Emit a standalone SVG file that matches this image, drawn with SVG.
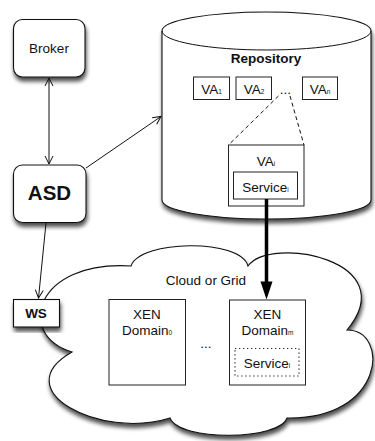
<svg xmlns="http://www.w3.org/2000/svg" width="375" height="441" viewBox="0 0 375 441">
<style>
text{font-family:"Liberation Sans",Arial,Helvetica,sans-serif;font-size:13.5px;fill:#111;text-anchor:middle}
.b{font-weight:bold}
.sub{font-size:6.5px}
.sh{fill:#fff;stroke:#111;stroke-width:1.1}
.bx{fill:#fff;stroke:#222;stroke-width:1}
.ln{fill:none;stroke:#111;stroke-width:1}
</style>
<defs>
<filter id="ds" x="-10%" y="-10%" width="125%" height="130%">
<feGaussianBlur in="SourceAlpha" stdDeviation="2.2"/>
<feOffset dx="1" dy="4" result="o"/>
<feComponentTransfer><feFuncA type="linear" slope="0.7"/></feComponentTransfer>
<feMerge><feMergeNode/><feMergeNode in="SourceGraphic"/></feMerge>
</filter>
<marker id="oa" viewBox="-9 -5 10 10" refX="0" refY="0" markerWidth="10" markerHeight="10" markerUnits="userSpaceOnUse" orient="auto-start-reverse">
<path d="M-8,-4 L0,0 L-8,4" fill="none" stroke="#111" stroke-width="1"/>
</marker>
</defs>

<g id="cloud">
<path class="sh" filter="url(#ds)" d="M131,266 C140,240 240,238 248,266 C270,235 405,260 347,330 C390,330 385,420 287,418 C280,440 180,442 170,418 C100,440 5,390 72,352 C15,335 35,260 131,266 Z"/>
<text x="206" y="285">Cloud or Grid</text>
</g>

<g id="repository">
<path class="sh" filter="url(#ds)" d="M162,31 L162,200 A104.5,19 0 0 0 371,200 L371,31 A104.5,19 0 0 0 162,31 Z"/>
<path class="ln" d="M162,31 A104.5,19 0 0 0 371,31"/>
<text class="b" x="266" y="63">Repository</text>
</g>

<g id="va1"><rect class="bx" x="193.5" y="77" width="36" height="22.5"/><text x="211.5" y="94">VA<tspan class="sub">1</tspan></text></g>
<g id="va2"><rect class="bx" x="236" y="77" width="35.5" height="22.5"/><text x="254" y="94">VA<tspan class="sub">2</tspan></text></g>
<g id="vadots"><text x="285.5" y="94">...</text></g>
<g id="van"><rect class="bx" x="302.5" y="77" width="35" height="22.5"/><text x="320" y="94">VA<tspan class="sub">n</tspan></text></g>

<g id="vai">
<rect class="bx" x="228.5" y="145" width="75.5" height="61"/>
<text x="266" y="165.5">VA<tspan class="sub">i</tspan></text>
</g>
<g id="service-vai">
<rect class="bx" x="233.5" y="172" width="64" height="27"/>
<text x="265.5" y="192">Service<tspan class="sub">i</tspan></text>
</g>

<g id="xen0">
<rect class="bx" x="109" y="299.5" width="76.5" height="85.5"/>
<text x="147" y="318.5">XEN</text>
<text x="147" y="334.5">Domain<tspan class="sub">0</tspan></text>
</g>
<g id="xendots"><text x="206" y="348">...</text></g>
<g id="xenm">
<rect class="bx" x="229.5" y="300" width="76" height="85"/>
<text x="267.5" y="318.5">XEN</text>
<text x="267.5" y="334.5">Domain<tspan class="sub">m</tspan></text>
</g>
<g id="service-xenm">
<rect x="235" y="348.5" width="64" height="27.5" fill="none" stroke="#222" stroke-width="1.2" stroke-dasharray="1.3,2.7"/>
<text x="267" y="368">Service<tspan class="sub">i</tspan></text>
</g>

<g id="broker"><rect class="sh" filter="url(#ds)" x="13.5" y="19.5" width="71.5" height="57.5" rx="9"/><text x="49" y="53">Broker</text></g>
<g id="asd"><rect class="sh" filter="url(#ds)" x="13.5" y="165" width="72.5" height="57.5" rx="9"/><text class="b" x="49.5" y="200" style="font-size:20.5px">ASD</text></g>
<g id="ws"><rect class="sh" filter="url(#ds)" x="13.5" y="299.5" width="46" height="27.5"/><text class="b" x="36" y="317.5">WS</text></g>

<g id="connectors">
<line class="ln" x1="49" y1="78" x2="49" y2="164" marker-start="url(#oa)" marker-end="url(#oa)"/>
<line class="ln" x1="86" y1="168" x2="161" y2="116.5" marker-end="url(#oa)"/>
<line class="ln" x1="46" y1="223" x2="38.5" y2="298" marker-end="url(#oa)"/>
<line class="ln" x1="278.5" y1="96" x2="228.5" y2="145" stroke-dasharray="4,3"/>
<line class="ln" x1="290" y1="96" x2="304" y2="145" stroke-dasharray="4,3"/>
<line x1="266.5" y1="199" x2="266.5" y2="284" stroke="#000" stroke-width="3.5"/>
<polygon points="260.5,281.5 272.5,281.5 266.5,299.5" fill="#000"/>
</g>
</svg>
